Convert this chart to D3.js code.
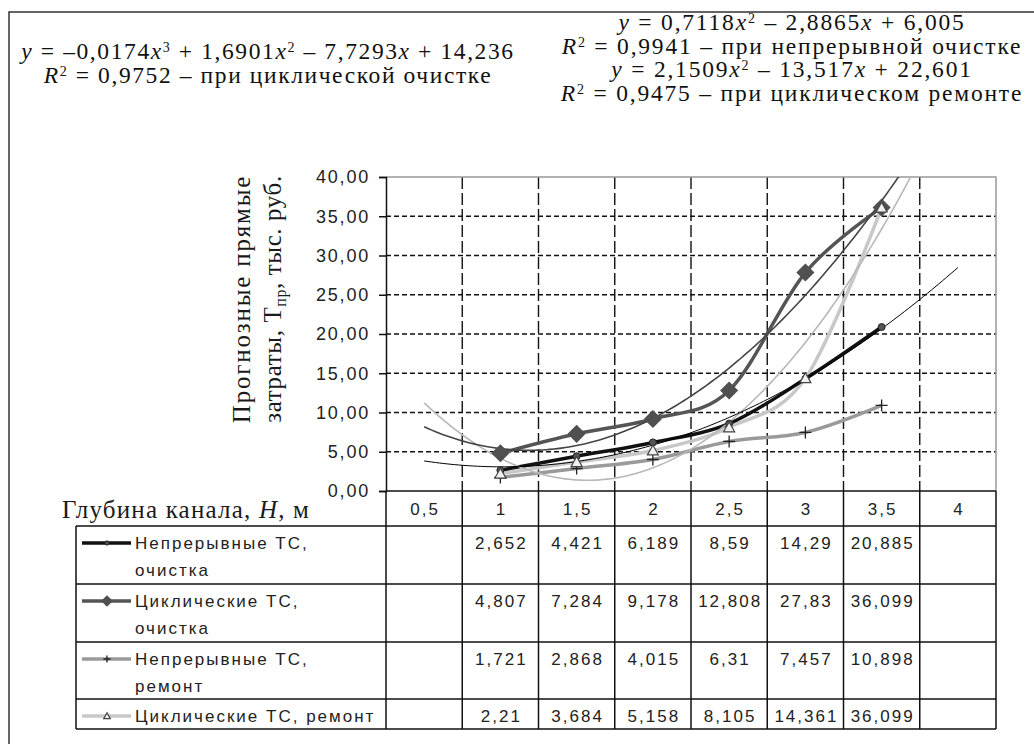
<!DOCTYPE html>
<html>
<head>
<meta charset="utf-8">
<script src="https://cdn.jsdelivr.net/npm/d3@7"></script>
<style>
body { margin: 0; background: #fff; }
.sans { font-family: "Liberation Sans", Arial, sans-serif; }
.serif { font-family: "Liberation Serif", "Times New Roman", serif; }
</style>
</head>
<body>
<div id="chart"></div>
<script>
// Chart data
const categories = ["0,5", "1", "1,5", "2", "2,5", "3", "3,5", "4"];
const contClean  = [null, 2.652, 4.421, 6.189, 8.59, 14.29, 20.885, null];
const cycClean   = [null, 4.807, 7.284, 9.178, 12.808, 27.83, 36.099, null];
const contRepair = [null, 1.721, 2.868, 4.015, 6.31, 7.457, 10.898, null];
const cycRepair  = [null, 2.21, 3.684, 5.158, 8.105, 14.361, 36.099, null];
const yTicks = [0, 5, 10, 15, 20, 25, 30, 35, 40];

const legendLabels = [
  ["Непрерывные ТС,", "очистка"],
  ["Циклические ТС,", "очистка"],
  ["Непрерывные ТС,", "ремонт"],
  ["Циклические ТС, ремонт"]
];

// trendline coefficients as printed on the chart (highest power first, x = category number)
const trendCycClean  = [-0.0174, 1.6901, -7.7293, 14.236];
const trendContClean = [0.7118, -2.8865, 6.005];
const trendCycRepair = [2.1509, -13.517, 22.601];

const eqLeft = [
  "*y* = –0,0174*x*^3^ + 1,6901*x*^2^ – 7,7293*x* + 14,236",
  "*R*^2^ = 0,9752 – при циклической очистке"
];
const eqRight = [
  "*y* = 0,7118*x*^2^ – 2,8865*x* + 6,005",
  "*R*^2^ = 0,9941 – при непрерывной очистке",
  "*y* = 2,1509*x*^2^ – 13,517*x* + 22,601",
  "*R*^2^ = 0,9475 – при циклическом ремонте"
];

const W = 1034, H = 744;
const plot = {left: 386, right: 996, top: 177, bottom: 491};
const tableLeft = 76;
const headerBottom = 526;
const rowHeights = [58, 58, 57, 30];

const svg = d3.select("#chart")
  .append("svg")
  .attr("width", W)
  .attr("height", H);

svg.append("rect").attr("width", W).attr("height", H).attr("fill", "#fff");

// outer frame
svg.append("rect")
  .attr("x", 9).attr("y", 12)
  .attr("width", W + 20).attr("height", H + 20)
  .attr("fill", "none").attr("stroke", "#333").attr("stroke-width", 1.5);

// Scales
const xBand = d3.scaleBand().domain(categories).range([plot.left, plot.right]);
const xIdx = d3.scaleLinear().domain([0.5, categories.length + 0.5]).range([plot.left, plot.right]);
const y = d3.scaleLinear().domain([0, 40]).range([plot.bottom, plot.top]);

const fmt = d3.formatLocale({decimal: ",", thousands: " ", grouping: [3], currency: ["", ""]}).format(".2f");

// horizontal gridlines
svg.append("g")
  .selectAll("line")
  .data(yTicks.filter(d => d > 0 && d < 40))
  .enter().append("line")
  .attr("x1", plot.left).attr("x2", plot.right)
  .attr("y1", d => y(d)).attr("y2", d => y(d))
  .attr("stroke", "#111").attr("stroke-width", 1.4)
  .attr("stroke-dasharray", "5,3");

// vertical gridlines between categories
const bounds = categories.slice(1).map(c => xBand(c));
svg.append("g")
  .selectAll("line")
  .data(bounds)
  .enter().append("line")
  .attr("x1", d => d).attr("x2", d => d)
  .attr("y1", plot.top).attr("y2", plot.bottom)
  .attr("stroke", "#111").attr("stroke-width", 1.4)
  .attr("stroke-dasharray", "12,4");

// plot border top / right
svg.append("path")
  .attr("d", `M${plot.left},${plot.top}H${plot.right}V${plot.bottom}`)
  .attr("fill", "none").attr("stroke", "#999").attr("stroke-width", 1.5);

// Y axis
const yAxis = svg.append("g")
  .attr("transform", `translate(${plot.left},0)`)
  .call(d3.axisLeft(y).tickValues(yTicks).tickFormat(fmt).tickSize(7).tickPadding(9));
yAxis.select(".domain").attr("stroke", "#111").attr("stroke-width", 1.5);
yAxis.selectAll(".tick line").attr("stroke", "#111").attr("stroke-width", 1.5);
yAxis.selectAll(".tick text")
  .attr("class", "sans")
  .style("font-size", "18px")
  .style("letter-spacing", "1.8px")
  .attr("fill", "#222");

// Y axis title (two rotated lines)
svg.append("text")
  .attr("class", "serif")
  .attr("transform", "translate(242,299) rotate(-90)")
  .attr("text-anchor", "middle")
  .attr("y", 8)
  .style("font-size", "25px")
  .style("letter-spacing", "1.8px")
  .attr("fill", "#1a1a1a")
  .text("Прогнозные прямые");

const yTitle2 = svg.append("text")
  .attr("class", "serif")
  .attr("transform", "translate(273,299) rotate(-90)")
  .attr("text-anchor", "middle")
  .attr("y", 8)
  .style("font-size", "25px")
  .style("letter-spacing", "0.6px")
  .attr("fill", "#1a1a1a");
yTitle2.append("tspan").text("затраты, Т");
yTitle2.append("tspan").attr("dy", 5).style("font-size", "16px").text("пр");
yTitle2.append("tspan").attr("dy", -5).text(", тыс. руб.");

// Clip for the plot area
svg.append("clipPath").attr("id", "plotClip")
  .append("rect")
  .attr("x", plot.left).attr("y", plot.top)
  .attr("width", plot.right - plot.left).attr("height", plot.bottom - plot.top);

const series = [
  {values: contClean,  color: "#111",    width: 3.5, marker: "circle"},
  {values: cycClean,   color: "#555",    width: 3.5, marker: "diamond"},
  {values: contRepair, color: "#9a9a9a", width: 3.5, marker: "plus"},
  {values: cycRepair,  color: "#c8c8c8", width: 3.5, marker: "triangle"}
];

const trends = [
  {coef: trendCycRepair,  color: "#b8b8b8", width: 1.6},
  {coef: trendCycClean,   color: "#444",    width: 1.6},
  {coef: trendContClean,  color: "#000",    width: 1}
];

const poly = (coef, x) => coef.reduce((acc, c) => acc * x + c, 0);

const line = d3.line()
  .defined(d => d.v !== null)
  .x(d => xIdx(d.i))
  .y(d => y(d.v))
  .curve(d3.curveCatmullRom.alpha(0));

const gSeries = svg.append("g").attr("clip-path", "url(#plotClip)");

// series lines
series.slice().reverse().forEach(s => {
  const pts = s.values.map((v, k) => ({i: k + 1, v: v})).filter(d => d.v !== null);
  gSeries.append("path")
    .datum(pts)
    .attr("d", line)
    .attr("fill", "none")
    .attr("stroke", s.color)
    .attr("stroke-width", s.width)
    .attr("stroke-linejoin", "round");
});

// trendlines
const trendX = d3.range(1, categories.length + 0.001, 0.05);
trends.forEach(t => {
  gSeries.append("path")
    .datum(trendX.map(x => ({i: x, v: poly(t.coef, x)})))
    .attr("d", d3.line().x(d => xIdx(d.i)).y(d => y(d.v)))
    .attr("fill", "none")
    .attr("stroke", t.color)
    .attr("stroke-width", t.width);
});

// marker drawing
function drawMarker(g, type, cx, cy, scale) {
  const k = scale || 1;
  if (type === "circle") {
    g.append("circle").attr("cx", cx).attr("cy", cy).attr("r", 3.5 * k)
      .attr("fill", "#555").attr("stroke", "#222").attr("stroke-width", 1);
  } else if (type === "diamond") {
    const a = 8 * k;
    g.append("path")
      .attr("d", `M${cx},${cy - a}L${cx + a},${cy}L${cx},${cy + a}L${cx - a},${cy}Z`)
      .attr("fill", "#505050").attr("stroke", "#505050").attr("stroke-width", 1.5);
  } else if (type === "plus") {
    const a = 6 * k;
    g.append("path")
      .attr("d", `M${cx - a},${cy}H${cx + a}M${cx},${cy - a}V${cy + a}`)
      .attr("stroke", "#222").attr("stroke-width", 1.3).attr("fill", "none");
  } else if (type === "triangle") {
    const a = 5.5 * k;
    g.append("path")
      .attr("d", `M${cx},${cy - a}L${cx + a},${cy + a * 0.8}L${cx - a},${cy + a * 0.8}Z`)
      .attr("fill", "#f0f0f0").attr("stroke", "#444").attr("stroke-width", 1.2);
  }
}

const gMarkers = svg.append("g");
series.forEach(s => {
  s.values.forEach((v, k) => {
    if (v === null) return;
    drawMarker(gMarkers, s.marker, xIdx(k + 1), y(v), 1);
  });
});

// X axis line (top of data table)
svg.append("line")
  .attr("x1", plot.left).attr("x2", plot.right)
  .attr("y1", plot.bottom).attr("y2", plot.bottom)
  .attr("stroke", "#111").attr("stroke-width", 1.5);

// Data table
const tableBottom = headerBottom + d3.sum(rowHeights);
const rowTops = rowHeights.map((h, k) => headerBottom + d3.sum(rowHeights.slice(0, k)));

const gTable = svg.append("g").attr("stroke", "#111").attr("stroke-width", 1.5);
[plot.left].concat(bounds, [plot.right]).forEach(xv => {
  gTable.append("line")
    .attr("x1", xv).attr("x2", xv)
    .attr("y1", plot.bottom).attr("y2", tableBottom);
});
gTable.append("line").attr("x1", tableLeft).attr("x2", tableLeft)
  .attr("y1", headerBottom).attr("y2", tableBottom);
rowTops.concat([tableBottom]).forEach(yv => {
  gTable.append("line")
    .attr("x1", tableLeft).attr("x2", plot.right)
    .attr("y1", yv).attr("y2", yv);
});

const tableFont = text => text
  .attr("class", "sans")
  .style("font-size", "17px")
  .style("letter-spacing", "2px")
  .attr("fill", "#222");

// header labels
svg.append("g")
  .selectAll("text")
  .data(categories)
  .enter().append("text")
  .call(tableFont)
  .attr("x", d => xBand(d) + xBand.bandwidth() / 2 + 1)
  .attr("y", (plot.bottom + headerBottom) / 2 + 6)
  .attr("text-anchor", "middle")
  .text(d => d);

// X axis title
const xTitle = svg.append("text")
  .attr("class", "serif")
  .attr("x", 62).attr("y", 518)
  .style("font-size", "25px")
  .style("letter-spacing", "1.2px")
  .attr("fill", "#1a1a1a");
xTitle.append("tspan").text("Глубина канала, ");
xTitle.append("tspan").style("font-style", "italic").text("H");
xTitle.append("tspan").text(", м");

// table rows: legend keys, labels, values
series.forEach((s, r) => {
  const top = rowTops[r];
  const cy = top + 17;
  svg.append("line")
    .attr("x1", 82).attr("x2", 131)
    .attr("y1", cy).attr("y2", cy)
    .attr("stroke", s.color).attr("stroke-width", s.width);
  drawMarker(svg, s.marker, 107, cy, 0.6);

  legendLabels[r].forEach((t, j) => {
    svg.append("text")
      .call(tableFont)
      .attr("x", 135).attr("y", cy + 6 + j * 27)
      .text(t);
  });

  s.values.forEach((v, k) => {
    if (v === null) return;
    svg.append("text")
      .call(tableFont)
      .attr("x", xBand(categories[k]) + xBand.bandwidth() / 2 + 1)
      .attr("y", cy + 6)
      .attr("text-anchor", "middle")
      .text(String(v).replace(".", ","));
  });
});

// equation labels: *italic*, ^superscript^
function richText(el, str) {
  let back = 0;
  str.split(/(\*[^*]+\*|\^[^^]+\^)/).filter(p => p.length).forEach(p => {
    let ts;
    if (p[0] === "*") {
      ts = el.append("tspan").style("font-style", "italic").text(p.slice(1, -1));
    } else if (p[0] === "^") {
      el.append("tspan").attr("dy", -7 + back).style("font-size", "14px").text(p.slice(1, -1));
      back = 7;
      return;
    } else {
      ts = el.append("tspan").text(p);
    }
    if (back) { ts.attr("dy", back); back = 0; }
  });
}

eqLeft.forEach((s, k) => {
  const t = svg.append("text")
    .attr("class", "serif")
    .attr("x", 268).attr("y", 59 + k * 24)
    .attr("text-anchor", "middle")
    .style("font-size", "23.5px")
    .style("letter-spacing", "1.6px")
    .attr("fill", "#111");
  richText(t, s);
});

eqRight.forEach((s, k) => {
  const t = svg.append("text")
    .attr("class", "serif")
    .attr("x", 792).attr("y", 30 + k * 23.7)
    .attr("text-anchor", "middle")
    .style("font-size", "23.5px")
    .style("letter-spacing", "1.8px")
    .attr("fill", "#111");
  richText(t, s);
});
</script>
</body>
</html>
